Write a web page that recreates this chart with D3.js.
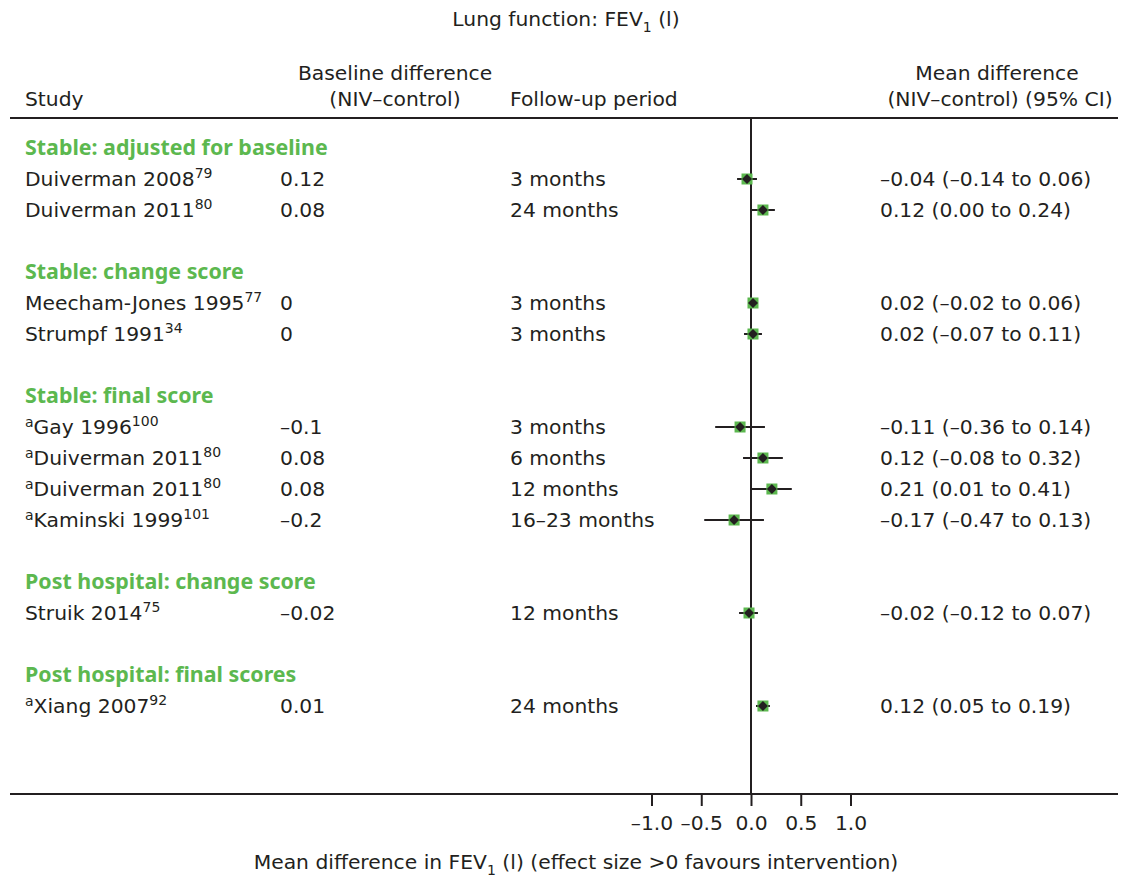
<!DOCTYPE html>
<html><head><meta charset="utf-8">
<script src="https://cdn.jsdelivr.net/npm/d3@7"></script>
<style>
body{margin:0;background:#fff;}
text{font-family:"DejaVu Sans",sans-serif;fill:#231f20;}
</style></head>
<body><svg id="c" width="1128" height="879"></svg>
<script>
// ---- data ----
const rowTypes = ["group","study","study","gap","group","study","study","gap","group","study","study","study","study","gap","group","study","gap","group","study"];
const groupLabels = ["Stable: adjusted for baseline","Stable: change score","Stable: final score","Post hospital: change score","Post hospital: final scores"];
const studyPrefix = ["","","","","a","a","a","a","","a"];
const studyNames = ["Duiverman 2008","Duiverman 2011","Meecham-Jones 1995","Strumpf 1991","Gay 1996","Duiverman 2011","Duiverman 2011","Kaminski 1999","Struik 2014","Xiang 2007"];
const studyRefs = ["79","80","77","34","100","80","80","101","75","92"];
const baselineDiff = ["0.12","0.08","0","0","–0.1","0.08","0.08","–0.2","–0.02","0.01"];
const followUp = ["3 months","24 months","3 months","3 months","3 months","6 months","12 months","16–23 months","12 months","24 months"];
const meanDiff = [-0.04,0.12,0.02,0.02,-0.11,0.12,0.21,-0.17,-0.02,0.12];
const ciLow = [-0.14,0.00,-0.02,-0.07,-0.36,-0.08,0.01,-0.47,-0.12,0.05];
const ciHigh = [0.06,0.24,0.06,0.11,0.14,0.32,0.41,0.13,0.07,0.19];
const ciLabels = ["–0.04 (–0.14 to 0.06)","0.12 (0.00 to 0.24)","0.02 (–0.02 to 0.06)","0.02 (–0.07 to 0.11)","–0.11 (–0.36 to 0.14)","0.12 (–0.08 to 0.32)","0.21 (0.01 to 0.41)","–0.17 (–0.47 to 0.13)","–0.02 (–0.12 to 0.07)","0.12 (0.05 to 0.19)"];
const axisTicks = [-1.0,-0.5,0.0,0.5,1.0];

// ---- layout ----
const svg = d3.select("#c");
const green = "#5cb84f";
const fs = 20.3;
const x = d3.scaleLinear().domain([-1,1]).range([651.5,850.5]);
const rowStart = 148, rowStep = 31;
const y = d3.scaleLinear().domain([0,1]).range([rowStart,rowStart+rowStep]);

const colStudy = 25, colBase = 280, colFollow = 510, colCI = 880;

// title
const t = svg.append("text").attr("x",566).attr("y",26).attr("text-anchor","middle").style("font-size",fs+"px");
t.append("tspan").text("Lung function: FEV");
t.append("tspan").attr("dy",6).style("font-size","14px").text("1");
t.append("tspan").attr("dy",-6).text(" (l)");

// headers
svg.append("text").attr("x",colStudy).attr("y",106).style("font-size",fs+"px").text("Study");
svg.append("text").attr("x",395).attr("y",80).attr("text-anchor","middle").style("font-size",fs+"px").text("Baseline difference");
svg.append("text").attr("x",395).attr("y",106).attr("text-anchor","middle").style("font-size",fs+"px").text("(NIV–control)");
svg.append("text").attr("x",colFollow).attr("y",106).style("font-size",fs+"px").text("Follow-up period");
svg.append("text").attr("x",997).attr("y",80).attr("text-anchor","middle").style("font-size",fs+"px").text("Mean difference");
svg.append("text").attr("x",1000).attr("y",106).attr("text-anchor","middle").style("font-size",fs+"px").text("(NIV–control) (95% CI)");

svg.append("line").attr("x1",10).attr("x2",1118).attr("y1",118).attr("y2",118).attr("stroke","#231f20").attr("stroke-width",2);

// zero line
const axisY = 794;
svg.append("line").attr("x1",x(0)).attr("x2",x(0)).attr("y1",118).attr("y2",axisY).attr("stroke","#231f20").attr("stroke-width",2);

// rows
let gi = 0, si = 0;
rowTypes.forEach((rt,i)=>{
  const yy = y(i);
  if(rt==="group"){
    svg.append("text").attr("x",colStudy).attr("y",yy+7).style("font-family","'Noto Sans',sans-serif").style("font-size","21.4px").style("font-weight","bold").style("fill",green).text(groupLabels[gi++]);
  } else if(rt==="study"){
    const k = si++;
    const st = svg.append("text").attr("x",colStudy).attr("y",yy+7).style("font-size",fs+"px");
    if(studyPrefix[k]) st.append("tspan").attr("dy",-7).style("font-size","14px").text(studyPrefix[k]);
    st.append("tspan").attr("dy",studyPrefix[k]?7:0).text(studyNames[k]);
    st.append("tspan").attr("dy",-8).style("font-size","14px").text(studyRefs[k]);
    svg.append("text").attr("x",colBase).attr("y",yy+7).style("font-size",fs+"px").text(baselineDiff[k]);
    svg.append("text").attr("x",colFollow).attr("y",yy+7).style("font-size",fs+"px").text(followUp[k]);
    svg.append("text").attr("x",colCI).attr("y",yy+7).style("font-size",fs+"px").text(ciLabels[k]);
    svg.append("line").attr("x1",x(ciLow[k])).attr("x2",x(ciHigh[k])).attr("y1",yy).attr("y2",yy).attr("stroke","#231f20").attr("stroke-width",2);
    const cx = x(meanDiff[k]);
    svg.append("rect").attr("x",cx-5.5).attr("y",yy-5.5).attr("width",11).attr("height",11).attr("fill",green);
    svg.append("path").attr("d",`M${cx},${yy-5} L${cx+5},${yy} L${cx},${yy+5} L${cx-5},${yy} Z`).attr("fill","#231f20");
  }
});

// axis
svg.append("line").attr("x1",10).attr("x2",1118).attr("y1",axisY).attr("y2",axisY).attr("stroke","#231f20").attr("stroke-width",2);
const ax = svg.append("g").attr("transform",`translate(0,${axisY})`)
  .call(d3.axisBottom(x).tickValues(axisTicks).tickFormat(d=>d3.format(".1f")(d).replace("−","–").replace("-","–")).tickSize(12).tickPadding(10));
ax.select(".domain").remove();
ax.selectAll(".tick line").attr("stroke","#231f20").attr("stroke-width",2);
ax.selectAll(".tick text").style("font-size",fs+"px").attr("font-family",null).style("fill","#231f20");

const xl = svg.append("text").attr("x",576).attr("y",869).attr("text-anchor","middle").style("font-size",fs+"px");
xl.append("tspan").text("Mean difference in FEV");
xl.append("tspan").attr("dy",6).style("font-size","14px").text("1");
xl.append("tspan").attr("dy",-6).text(" (l) (effect size >0 favours intervention)");
</script></body></html>
